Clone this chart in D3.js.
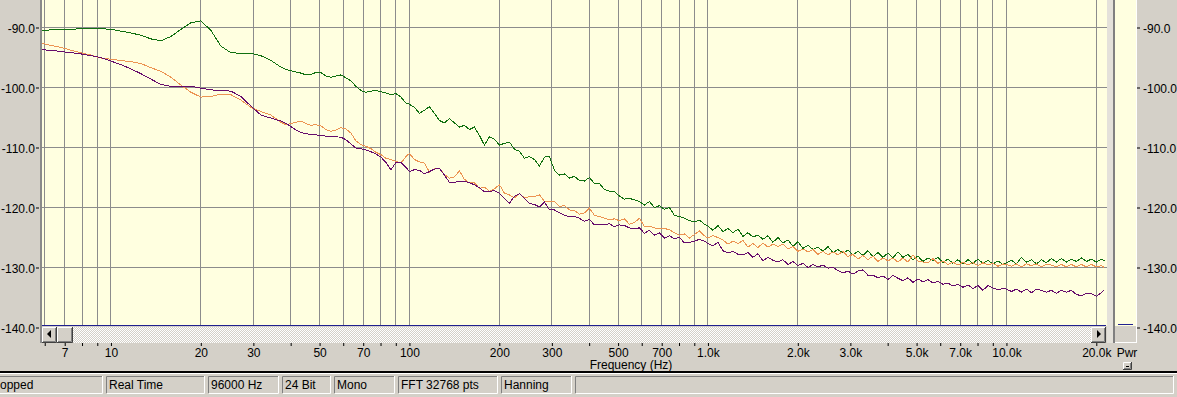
<!DOCTYPE html>
<html>
<head>
<meta charset="utf-8">
<script src="https://cdnjs.cloudflare.com/ajax/libs/d3/7.8.5/d3.min.js"></script>
<style>
    html, body { margin: 0; padding: 0; background: #d4d0c8; overflow: hidden; }
    svg { display: block; font-family: "Liberation Sans", Arial, sans-serif; font-size: 12px; }
</style>
</head>
<body>
<div id="chart"></div>
<script>
// frequency bins (Hz) shared by the three traces
var freqHz = [
    5.83, 6.30, 6.80, 7.35, 7.93, 8.57, 9.26, 10.0, 10.8, 11.67,
    12.6, 13.61, 14.71, 15.89, 17.16, 18.54, 20.02, 21.63, 23.36, 25.23,
    27.26, 29.44, 31.80, 34.36, 37.11, 38.57, 40.09, 41.66, 43.30, 45.00,
    46.77, 48.61, 50.52, 52.51, 54.57, 56.72, 58.95, 61.27, 63.68, 66.18,
    68.78, 71.49, 74.30, 77.22, 80.26, 83.41, 86.69, 90.10, 93.64, 97.33,
    100.0, 103.9, 108.0, 112.3, 116.7, 121.3, 126.1, 131.0, 136.1, 141.5,
    147.1, 152.8, 158.9, 165.1, 171.6, 178.3, 185.4, 192.6, 200.2, 208.1,
    216.3, 224.8, 233.6, 242.8, 252.3, 262.3, 272.6, 283.3, 294.4, 306.0,
    318.0, 330.6, 343.6, 357.1, 371.1, 385.7, 400.9, 416.6, 433.0, 450.0,
    467.7, 486.1, 505.2, 525.1, 545.7, 567.2, 589.5, 612.7, 636.8, 661.8,
    687.8, 714.9, 743.0, 772.2, 802.6, 834.1, 866.9, 901.0, 936.4, 973.3,
    1000, 1039, 1080, 1123, 1167, 1213, 1261, 1310, 1361, 1415,
    1471, 1528, 1589, 1651, 1716, 1783, 1854, 1926, 2002, 2081,
    2163, 2248, 2336, 2428, 2523, 2623, 2726, 2833, 2944, 3060,
    3180, 3306, 3436, 3571, 3711, 3857, 4009, 4166, 4330, 4500,
    4677, 4861, 5052, 5251, 5457, 5672, 5895, 6127, 6368, 6618,
    6878, 7149, 7430, 7722, 8026, 8341, 8669, 9010, 9364, 9733,
    10000, 10393, 10800, 11228, 11668, 12127, 12605, 13099, 13614, 14149,
    14706, 15284, 15885, 16510, 17159, 17834, 18535, 19264, 20022, 20809,
    21300
];

var greenDb = [
    -90.5, -90.4, -90.4, -90.3, -90.2, -90.2, -90.2, -90.3, -90.6, -90.9,
    -91.3, -91.9, -92.2, -91.5, -90.3, -89.2, -88.9, -90.5, -93.1, -94.2,
    -94.3, -94.3, -94.7, -95.5, -96.6, -97.0, -97.2, -97.4, -97.6, -97.9,
    -97.8, -97.5, -97.5, -98.1, -98.3, -98.1, -97.9, -98.4, -98.9, -99.8,
    -100.5, -100.8, -100.6, -100.5, -100.7, -100.9, -101.2, -101.0, -101.6, -102.6,
    -102.8, -103.3, -104.3, -103.8, -103.2, -104.3, -105.5, -105.9, -105.2, -105.9,
    -106.6, -106.3, -107.0, -106.6, -108.0, -109.6, -108.2, -108.6, -109.6, -109.3,
    -109.1, -110.3, -110.6, -111.8, -111.5, -112.0, -113.1, -111.6, -111.5, -113.8,
    -114.6, -114.4, -115.1, -114.8, -115.5, -115.6, -115.0, -116.0, -116.0, -117.0,
    -117.3, -117.3, -118.1, -118.6, -118.5, -118.7, -119.0, -119.6, -119.0, -120.0,
    -119.7, -120.3, -120.0, -121.3, -121.5, -121.8, -122.2, -122.4, -122.1, -122.8,
    -123.1, -123.8, -123.0, -124.0, -123.5, -124.2, -123.6, -124.8, -124.2, -124.9,
    -124.6, -125.3, -124.7, -125.8, -125.0, -125.9, -125.4, -126.5, -125.7, -126.8,
    -126.3, -127.0, -126.6, -127.3, -126.5, -127.5, -127.0, -127.6, -127.1, -127.9,
    -127.3, -128.0, -127.2, -128.2, -127.5, -128.3, -127.6, -128.4, -127.4, -128.3,
    -127.8, -128.7, -128.1, -129.0, -128.4, -128.8, -128.3, -129.2, -128.6, -129.3,
    -128.7, -129.4, -128.7, -129.3, -128.6, -129.3, -128.8, -129.4, -128.9, -129.5,
    -129.2, -128.8, -129.4, -128.3, -129.1, -128.7, -129.4, -128.7, -129.2, -128.5,
    -129.1, -128.5, -129.1, -128.6, -129.0, -128.4, -129.0, -128.6, -129.1, -128.6,
    -128.9
];

var orangeDb = [
    -92.6, -93.0, -93.3, -93.8, -94.2, -94.6, -95.1, -95.3, -95.5, -95.7,
    -96.0, -96.7, -97.3, -98.3, -99.6, -100.8, -101.6, -101.5, -101.1, -101.2,
    -102.1, -103.3, -104.0, -104.6, -105.8, -106.2, -106.0, -105.8, -105.6, -106.0,
    -106.3, -106.2, -106.4, -107.0, -107.3, -107.1, -106.7, -106.9, -107.6, -108.9,
    -109.5, -109.8, -110.2, -110.8, -111.2, -111.8, -112.0, -112.3, -112.6, -111.5,
    -111.0, -112.0, -112.4, -112.6, -114.1, -113.5, -113.5, -114.5, -115.1, -114.9,
    -113.9, -115.3, -115.9, -115.9, -116.8, -116.6, -117.3, -116.9, -116.2, -117.6,
    -117.9, -118.4, -117.7, -118.4, -118.2, -118.2, -117.9, -119.0, -119.0, -119.0,
    -119.8, -119.7, -120.4, -120.5, -121.1, -120.9, -120.1, -121.3, -121.5, -121.8,
    -122.0, -121.9, -122.2, -121.9, -122.8, -122.5, -121.8, -123.2, -123.1, -123.4,
    -123.5, -123.5, -123.7, -124.2, -124.6, -124.4, -125.1, -124.5, -123.9, -124.7,
    -125.1, -124.7, -125.0, -125.4, -126.1, -125.6, -126.0, -125.5, -126.6, -126.0,
    -126.7, -125.9, -126.6, -126.1, -126.5, -126.1, -126.9, -126.5, -127.3, -126.9,
    -127.4, -127.0, -127.8, -127.3, -127.9, -127.4, -127.9, -127.3, -128.2, -127.8,
    -128.6, -128.0, -128.7, -128.1, -129.0, -128.4, -128.9, -128.4, -129.1, -128.4,
    -129.1, -127.9, -128.9, -129.1, -129.2, -128.5, -129.3, -128.9, -129.5, -129.1,
    -129.6, -129.1, -129.6, -129.2, -129.7, -129.2, -129.6, -129.3, -129.8, -129.4,
    -129.5, -129.8, -129.4, -129.9, -129.4, -129.7, -129.4, -129.9, -129.5, -129.6,
    -129.9, -129.5, -129.9, -129.5, -129.9, -129.5, -129.9, -129.5, -129.9, -129.7,
    -130.0
];

var purpleDb = [
    -93.7, -93.8, -94.0, -94.2, -94.4, -94.7, -95.0, -95.6, -96.2, -96.9,
    -97.7, -98.6, -99.5, -99.8, -99.8, -99.8, -100.1, -100.4, -100.5, -100.6,
    -101.5, -103.1, -104.6, -105.1, -105.6, -106.0, -106.5, -107.1, -107.5, -107.7,
    -107.8, -107.9, -108.0, -108.1, -108.1, -108.2, -108.3, -108.7, -109.4, -110.1,
    -110.2, -110.4, -110.7, -111.1, -111.6, -112.5, -113.7, -112.5, -112.5, -113.3,
    -114.0, -113.7, -113.8, -114.4, -114.0, -113.6, -113.5, -114.6, -115.8, -115.8,
    -115.6, -115.6, -115.9, -116.2, -116.7, -117.4, -117.3, -117.2, -117.6, -118.5,
    -119.3, -118.1, -117.7, -118.5, -119.3, -119.5, -119.9, -119.1, -120.4, -120.4,
    -120.9, -121.3, -121.5, -121.5, -121.8, -122.3, -122.0, -122.9, -122.8, -122.9,
    -122.7, -123.2, -122.9, -123.0, -123.4, -123.5, -123.4, -124.3, -123.8, -124.6,
    -124.2, -125.1, -124.7, -125.2, -125.0, -125.9, -125.8, -125.6, -125.3, -125.6,
    -126.0, -126.4, -125.8, -127.2, -127.6, -127.3, -127.8, -127.9, -127.5, -128.3,
    -127.7, -128.9, -128.3, -128.8, -129.1, -128.7, -129.5, -129.0, -129.7, -129.3,
    -130.0, -129.5, -129.9, -129.6, -130.1, -130.0, -130.5, -130.9, -130.6, -131.1,
    -130.6, -130.4, -131.3, -131.3, -131.7, -131.4, -132.0, -131.3, -131.8, -132.2,
    -131.7, -132.5, -131.9, -132.4, -132.0, -132.6, -132.3, -132.8, -132.6, -133.1,
    -132.8, -133.3, -132.9, -133.5, -133.0, -133.8, -133.0, -133.4, -133.7, -133.5,
    -133.6, -134.0, -133.6, -134.1, -133.6, -134.2, -133.6, -133.8, -134.1, -133.8,
    -134.3, -133.8, -134.1, -133.8, -134.5, -134.7, -134.3, -134.4, -134.8, -134.2,
    -133.7
];

var freqLabelValues = [7, 10, 20, 30, 50, 70, 100, 200, 300, 500, 700, 1000, 2000, 3000, 5000, 7000, 10000, 20000];
var dbTickValues = [-90, -100, -110, -120, -130, -140];
var statusTexts = ["opped", "Real Time", "96000 Hz", "24 Bit", "Mono", "FFT 32768 pts", "Hanning", ""];

(function () { // self-invoking function
    var W = 1177, H = 397;
    var plotL = 42, plotR = 1107, plotB = 326;
    var bg = "#d4d0c8", plotBg = "#ffffe0";
    var _statusEdges = [0, 106, 208, 282, 334, 398, 501, 575, 1177];

    var xScale = d3.scaleLog().domain([5.83, 21720]).range([41, 1107]);
    var yScale = d3.scaleLinear().domain([-90, -140]).range([27.5, 327.5]);

    var svg = d3.select("#chart").append("svg")
        .attr("width", W)
        .attr("height", H);

    var defs = svg.append("defs");
    defs.append("clipPath").attr("id", "plotClip")
        .append("rect")
        .attr("x", plotL).attr("y", 0)
        .attr("width", plotR - plotL).attr("height", plotB - 1);

    var hatch = defs.append("pattern")
        .attr("id", "hatch")
        .attr("width", 2).attr("height", 2)
        .attr("patternUnits", "userSpaceOnUse");
    hatch.append("rect").attr("width", 2).attr("height", 2).attr("fill", bg);
    hatch.append("rect").attr("width", 1).attr("height", 1).attr("fill", "#ffffff");
    hatch.append("rect").attr("x", 1).attr("y", 1).attr("width", 1).attr("height", 1).attr("fill", "#ffffff");

    //region private helpers
    var _line = function (x1, y1, x2, y2, color) {
        return svg.append("line")
            .attr("x1", x1).attr("y1", y1)
            .attr("x2", x2).attr("y2", y2)
            .attr("stroke", color)
            .attr("shape-rendering", "crispEdges");
    };

    var _button = function (x, y, w, h, arrow) {
        svg.append("rect").attr("x", x).attr("y", y).attr("width", w).attr("height", h).attr("fill", bg);
        svg.append("path").attr("d", "M" + (x + 0.5) + "," + (y + h - 1) + "V" + (y + 0.5) + "H" + (x + w - 1))
            .attr("fill", "none").attr("stroke", "#ffffff");
        svg.append("path").attr("d", "M" + (x + 1) + "," + (y + h - 1.5) + "H" + (x + w - 1.5) + "V" + (y + 1))
            .attr("fill", "none").attr("stroke", "#808080");
        svg.append("path").attr("d", "M" + x + "," + (y + h - 0.5) + "H" + (x + w - 0.5) + "V" + y)
            .attr("fill", "none").attr("stroke", "#404040");
        if (arrow) {
            var cx = x + w / 2, cy = y + 7;
            var d = (arrow === "left")
                ? "M" + (cx - 2.5) + "," + cy + "L" + (cx + 1.5) + "," + (cy - 4) + "L" + (cx + 1.5) + "," + (cy + 4) + "Z"
                : "M" + (cx + 2.5) + "," + cy + "L" + (cx - 1.5) + "," + (cy - 4) + "L" + (cx - 1.5) + "," + (cy + 4) + "Z";
            svg.append("path").attr("d", d).attr("fill", "#000");
        }
    };

    var _fmtFreq = function (f) {
        if (freqLabelValues.indexOf(f) < 0) return "";
        return (f >= 1000) ? (f / 1000).toFixed(1) + "k" : String(f);
    };
    //endregion

    //region plot frame
    svg.append("rect").attr("x", plotL).attr("y", 0)
        .attr("width", plotR - plotL).attr("height", plotB).attr("fill", plotBg);
    svg.append("rect").attr("x", 40).attr("y", 0).attr("width", 2).attr("height", 343).attr("fill", "#8a8a8a");
    svg.append("rect").attr("x", plotR).attr("y", 0).attr("width", 6).attr("height", 343).attr("fill", "#e4e1da");
    svg.append("rect").attr("x", 1113).attr("y", 0).attr("width", 2).attr("height", 343).attr("fill", "#808080");

    // grid
    var gridFreqs = xScale.ticks();
    gridFreqs.forEach(function (f) {
        var x = Math.floor(xScale(f)) + 0.5;
        _line(x, 0, x, plotB - 1, "#8c8c8c");
    });
    dbTickValues.slice(0, -1).forEach(function (v) {
        var y = Math.floor(yScale(v)) + 0.5;
        _line(plotL, y, plotR, y, "#8c8c8c");
    });
    //endregion

    //region traces
    var lineGen = d3.line()
        .x(function (d) { return xScale(d[0]); })
        .y(function (d) { return yScale(d[1]); });

    var series = [
        {values: greenDb, color: "#107010"},
        {values: orangeDb, color: "#ec9452"},
        {values: purpleDb, color: "#660c6c"}
    ];
    var traces = svg.append("g").attr("clip-path", "url(#plotClip)");
    series.forEach(function (s) {
        traces.append("path")
            .datum(d3.zip(freqHz, s.values))
            .attr("d", lineGen)
            .attr("fill", "none")
            .attr("stroke", s.color)
            .attr("stroke-width", 1)
            .attr("shape-rendering", "crispEdges");
    });
    _line(plotL, plotB - 0.5, plotR - 1, plotB - 0.5, "#202090");
    //endregion

    //region scrollbar
    svg.append("rect").attr("x", plotL).attr("y", 327)
        .attr("width", plotR - plotL - 1).attr("height", 16).attr("fill", "url(#hatch)");
    _button(42, 327, 15, 16, "left");
    _button(57, 327, 16, 16, null);
    _button(1091, 327, 15, 16, "right");
    //endregion

    //region axes
    var xAxis = d3.axisBottom(xScale)
        .tickValues(gridFreqs)
        .tickSize(3)
        .tickFormat(_fmtFreq);
    var gx = svg.append("g").attr("transform", "translate(0,343)").call(xAxis);
    gx.select(".domain").remove();
    gx.selectAll("line").attr("stroke", "#000");
    gx.selectAll("text").attr("y", 14).attr("dy", null)
        .attr("font-family", "Liberation Sans, Arial, sans-serif").attr("font-size", 12).attr("fill", "#000");

    var gl = svg.append("g").attr("transform", "translate(40,0)")
        .call(d3.axisLeft(yScale).tickValues(dbTickValues).tickSize(3).tickPadding(2)
            .tickFormat(function (v) { return v.toFixed(1); }));
    gl.select(".domain").remove();
    gl.selectAll("line").attr("stroke", "#000").attr("transform", "translate(-1,0)");
    gl.selectAll("text").attr("dy", 4.5)
        .attr("font-family", "Liberation Sans, Arial, sans-serif").attr("font-size", 12).attr("fill", "#000");

    var gr = svg.append("g").attr("transform", "translate(1137,0)")
        .call(d3.axisRight(yScale).tickValues(dbTickValues).tickSize(3).tickPadding(3)
            .tickFormat(function (v) { return v.toFixed(1); }));
    gr.select(".domain").remove();
    gr.selectAll("line").attr("stroke", "#000");
    gr.selectAll("text").attr("dy", 4.5)
        .attr("font-family", "Liberation Sans, Arial, sans-serif").attr("font-size", 12).attr("fill", "#000");

    svg.append("text").attr("x", 631).attr("y", 369)
        .attr("text-anchor", "middle").attr("fill", "#000")
        .text("Frequency (Hz)");
    //endregion

    //region power meter
    svg.append("rect").attr("x", 1115).attr("y", 0).attr("width", 22).attr("height", plotB).attr("fill", plotBg);
    _line(1136.5, 0, 1136.5, 343, "#ffffff");
    _line(1115, 342.5, 1137, 342.5, "#ffffff");
    _line(1118, 324.5, 1133, 324.5, "#202090");
    svg.append("text").attr("x", 1127).attr("y", 357)
        .attr("text-anchor", "middle").attr("fill", "#000").text("Pwr");
    _button(1123, 362, 9, 8, null);
    _line(1126, 366.5, 1129, 366.5, "#000");
    //endregion

    //region status bar
    svg.append("rect").attr("x", 0).attr("y", 371).attr("width", W).attr("height", 2).attr("fill", "#000");
    svg.append("rect").attr("x", 0).attr("y", 373).attr("width", W).attr("height", 1).attr("fill", "#ffffff");
    statusTexts.forEach(function (t, i) {
        var x0 = _statusEdges[i] + (i === 0 ? -2 : 0), x1 = _statusEdges[i + 1] - 3;
        svg.append("path").attr("d", "M" + (x0 + 0.5) + ",393V376.5H" + x1)
            .attr("fill", "none").attr("stroke", "#808080");
        svg.append("path").attr("d", "M" + (x0 + 1) + ",393.5H" + (x1 - 0.5) + "V376")
            .attr("fill", "none").attr("stroke", "#ffffff");
        svg.append("text").attr("x", _statusEdges[i] + (i === 0 ? 0 : 3)).attr("y", 389)
            .attr("fill", "#000").text(t);
    });
    //endregion
})();
</script>
</body>
</html>
